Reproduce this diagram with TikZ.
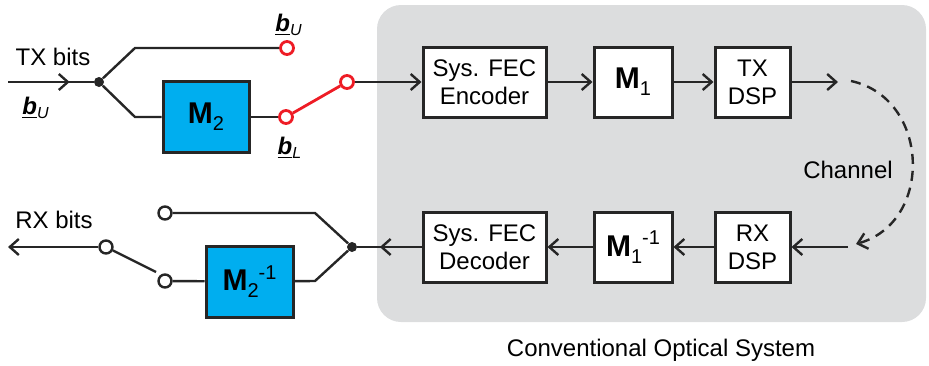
\documentclass[tikz,border=0pt]{standalone}
\usepackage{fontspec}
\setmainfont{Liberation Sans}
\usetikzlibrary{arrows.meta,decorations.markings}
\definecolor{panelgray}{HTML}{DCDDDE}
\definecolor{mapblue}{HTML}{00AEEF}
\definecolor{switchred}{HTML}{EE1C25}
\newcommand{\bitvec}[1]{\underline{\textbf{\textit{b}}}\textsubscript{\textit{#1}}}
% mapping name: bold M, lowered index, optional raised exponent
\newcommand{\mapname}[2]{{\fontsize{15}{16}\selectfont\textbf{M}}%
  \raisebox{-0.55ex}{\fontsize{10}{10}\selectfont #1}%
  \raisebox{0.9ex}{\fontsize{10}{10}\selectfont #2}}
\tikzset{
  wire/.style={line width=1.2pt, draw=black!85},
  tip/.style={-{Straight Barb[length=4.5pt,width=8pt,line width=1.2pt]}},
  block/.style={draw=black!85, line width=1.5pt, fill=white, minimum height=35pt,
    align=center, inner sep=0pt, font=\fontsize{12}{14}\selectfont},
  mapblock/.style={block, fill=mapblue, minimum height=35.5pt},
  port/.style={circle, draw=black!85, line width=1.2pt, fill=white, inner sep=0pt, minimum size=6.5pt},
  redport/.style={port, draw=switchred, line width=1.4pt},
  junction/.style={circle, fill=black!85, inner sep=0pt, minimum size=5pt},
  lbl/.style={font=\fontsize{12}{14}\selectfont, inner sep=0pt},
  midtip/.style={postaction={decorate}, decoration={markings,
    mark=at position #1 with {\arrow{Straight Barb[length=4.5pt,width=8pt,line width=1.2pt]}}}}
}
\begin{document}
\begin{tikzpicture}[x=0.5pt, y=-0.5pt]
\useasboundingbox (0,0) rectangle (929,365);

% shaded panel of the conventional system
\fill[panelgray, rounded corners=12pt] (377,5) rectangle (926,322);
\node[lbl] (sys) at (661,350) {Conventional Optical System};

% transmit chain
\node[block, minimum width=61.5pt] (enc) at (484.5,82) {Sys. FEC\\Encoder};
\node[block, minimum width=39pt] (m1) at (633,82) {\mapname{1}{}};
\node[block, minimum width=37.5pt] (txdsp) at (752.5,82) {TX\\DSP};
\coordinate (txout) at (838,82);

% receive chain
\node[block, minimum width=61.5pt] (dec) at (484.5,247) {Sys. FEC\\Decoder};
\node[block, minimum width=39pt] (m1inv) at (633,247) {\mapname{1}{-1}};
\node[block, minimum width=37.5pt] (rxdsp) at (752.5,247) {RX\\DSP};
\coordinate (rxin) at (848,247);

% channel
\coordinate (chstart) at (851,81);
\coordinate (chend) at (856,244);
\node[lbl] (chan) at (848,170) {Channel};

\draw[wire, tip] (enc) -- (m1);
\draw[wire, tip] (m1) -- (txdsp);
\draw[wire, tip] (txdsp) -- (txout);
\draw[wire, tip] (rxin) -- (rxdsp);
\draw[wire, tip] (rxdsp) -- (m1inv);
\draw[wire, tip] (m1inv) -- (dec);
\draw[wire, dash pattern=on 5pt off 3.5pt, tip] (chstart) .. controls (930,98) and (934,222) .. (chend);

% transmitter front end
\coordinate (txin) at (8,82);
\node[junction] (jtx) at (99,82) {};
\coordinate (tup) at (135,48);
\coordinate (tdn) at (135,117);
\node[mapblock, minimum width=43pt] (m2) at (206,117) {\mapname{2}{}};
\node[redport] (pu) at (287,48) {};
\node[redport] (pl) at (286,117) {};
\node[redport] (ps) at (347,82) {};
\node[lbl] (txbits) at (53,57) {TX bits};
\node[lbl] (bu1) at (36,108) {\bitvec{U}};
\node[lbl] (bu2) at (289,25) {\bitvec{U}};
\node[lbl] (bl) at (290,148) {\bitvec{L}};

\draw[wire, midtip=0.72] (txin) -- (jtx);
\draw[wire] (jtx) -- (tup) -- (pu);
\draw[wire] (jtx) -- (tdn) -- (m2);
\draw[wire] (m2) -- (pl);
\draw[line width=1.4pt, switchred] (pl) -- (ps);
\draw[wire, tip] (ps) -- (enc);

% receiver back end
\node[junction] (jrx) at (352,247) {};
\coordinate (rup) at (315,213);
\coordinate (rdn) at (315,281);
\node[mapblock, minimum width=43.5pt] (m2inv) at (249.5,281.5) {\mapname{2}{-1}};
\node[port] (qu) at (165,213) {};
\node[port] (ql) at (165,281) {};
\node[port] (qs) at (106,247) {};
\coordinate (swend) at (156,272);
\coordinate (rxout) at (8,247);
\node[lbl] (rxbits) at (54,220) {RX bits};

\draw[wire, midtip=0.65] (dec) -- (jrx);
\draw[wire] (jrx) -- (rup) -- (qu);
\draw[wire] (jrx) -- (rdn) -- (m2inv);
\draw[wire] (m2inv) -- (ql);
\draw[wire] (qs) -- (swend);
\draw[wire, tip] (qs) -- (rxout);
\end{tikzpicture}
\end{document}
